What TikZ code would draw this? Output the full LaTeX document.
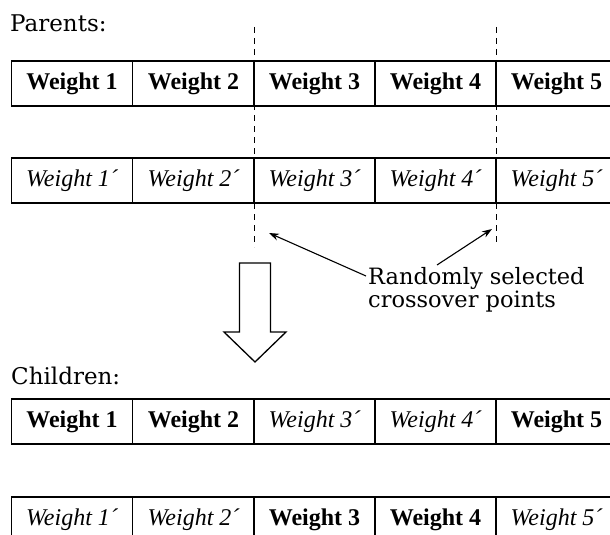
\documentclass[tikz,border=0pt]{standalone}
\usepackage{fontspec}
\setmainfont{Liberation Serif}
\newfontfamily\labelfont{DejaVu Serif}
\usetikzlibrary{arrows.meta}
\tikzset{
  cell/.style={draw, line width=1.1pt, minimum width=121.5pt, minimum height=45pt,
               inner sep=0pt, outer sep=0pt, anchor=center,
               font=\fontsize{24}{26}\selectfont},
  bw/.style={cell, font=\fontsize{24}{26}\selectfont\bfseries},
  iw/.style={cell, font=\fontsize{24}{26}\selectfont\itshape},
  lbl/.style={anchor=base west, inner sep=0pt, font=\labelfont\fontsize{23}{19}\selectfont},
  cutline/.style={line width=0.9pt, dash pattern=on 6pt off 5pt},
  pointer/.style={line width=1.1pt, -{Stealth[length=10pt,width=7pt]}},
}
\begin{document}
\begin{tikzpicture}[x=1pt,y=-1pt]
\useasboundingbox (0,0) rectangle (610,535);
\clip (0,0) rectangle (610,535);
% labels
\node[lbl] (par) at (10,32) {Parents:};
\node[lbl] (chi) at (11,384) {Children:};
% parents
\node[bw] (p1) at (72,83.5) {Weight 1};
\node[bw] (p2) at (193.5,83.5) {Weight 2};
\node[bw] (p3) at (314.5,83.5) {Weight 3};
\node[bw] (p4) at (435.5,83.5) {Weight 4};
\node[bw] (p5) at (556.5,83.5) {Weight 5};
\node[iw] (q1) at (72,180.5) {Weight 1´};
\node[iw] (q2) at (193.5,180.5) {Weight 2´};
\node[iw] (q3) at (314.5,180.5) {Weight 3´};
\node[iw] (q4) at (435.5,180.5) {Weight 4´};
\node[iw] (q5) at (556.5,180.5) {Weight 5´};
% children
\node[bw] (c1) at (72,421.5) {Weight 1};
\node[bw] (c2) at (193.5,421.5) {Weight 2};
\node[iw] (c3) at (314.5,421.5) {Weight 3´};
\node[iw] (c4) at (435.5,421.5) {Weight 4´};
\node[bw] (c5) at (556.5,421.5) {Weight 5};
\node[iw] (d1) at (72,519.5) {Weight 1´};
\node[iw] (d2) at (193.5,519.5) {Weight 2´};
\node[bw] (d3) at (314.5,519.5) {Weight 3};
\node[bw] (d4) at (435.5,519.5) {Weight 4};
\node[iw] (d5) at (556.5,519.5) {Weight 5´};
% crossover lines
\coordinate (k1t) at (254.5,27);
\coordinate (k1b) at (254.5,247);
\coordinate (k2t) at (496,27);
\coordinate (k2b) at (496,246);
\draw[cutline] (k1t) -- (k1b);
\draw[cutline] (k2t) -- (k2b);
% annotation
\node[lbl, align=left, font=\labelfont\fontsize{22.5}{19}\selectfont]
  (r) at (368,307.5) {Randomly selected\\[0.5pt]crossover points};
\coordinate (s1) at (366,276);
\coordinate (s2) at (437,265);
\coordinate (tip1) at (269,233);
\coordinate (tip2) at (492,229);
\draw[pointer] (s1) -- (tip1);
\draw[pointer] (s2) -- (tip2);
% block arrow
\draw[line width=1.3pt, line join=miter]
  (239.5,263) -- (270.5,263) -- (270.5,332) -- (286,332) -- (255,362)
  -- (224,332) -- (239.5,332) -- cycle;
\end{tikzpicture}
\end{document}
